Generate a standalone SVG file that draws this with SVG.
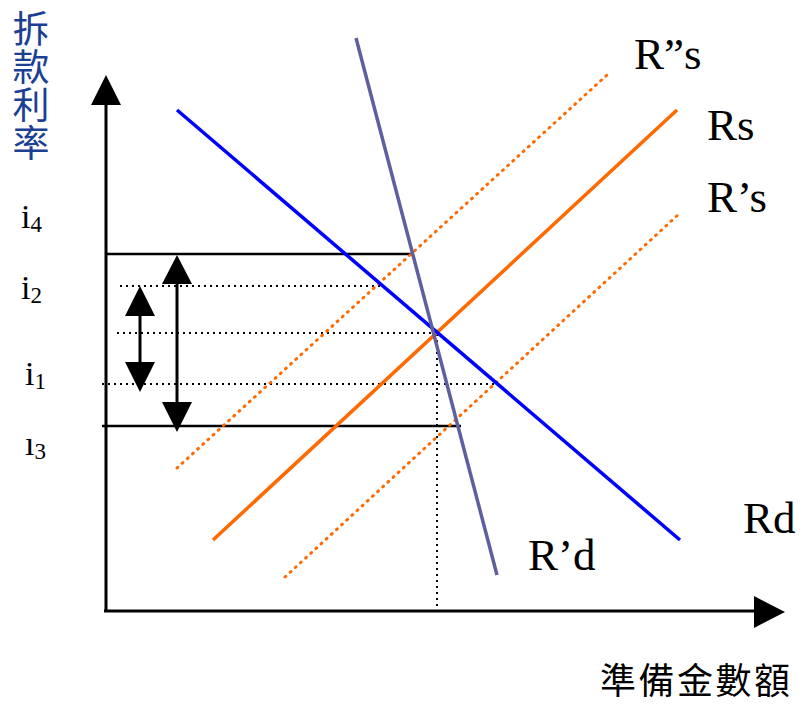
<svg xmlns="http://www.w3.org/2000/svg" width="803" height="705" viewBox="0 0 803 705">
<style>
.lbl{font-family:"Liberation Serif","Times New Roman",serif;fill:#000}
.cjk{font-family:"Noto Sans CJK TC","Noto Sans CJK SC",sans-serif}
.axis{stroke:#000;stroke-width:3;fill:none}
.hs{stroke:#000;stroke-width:2.5;fill:none}
.dot{stroke:#000;stroke-width:2;stroke-dasharray:2 4;fill:none}
.odot{stroke:#ff6a00;stroke-width:3;stroke-dasharray:1 6;stroke-linecap:round;fill:none}
.head{fill:#000}
</style>
<rect width="803" height="705" fill="#fff"/>
<g id="axes">
<line class="axis" x1="106" y1="100" x2="106" y2="612"/>
<line class="axis" x1="104" y1="611" x2="760" y2="611"/>
<polygon class="head" points="106,75 91,105 121,105"/>
<polygon class="head" points="785,612 754,596 754,628"/>
</g>
<g id="connectors">
<line class="hs" x1="106" y1="254" x2="413" y2="254"/>
<line class="hs" x1="102" y1="426" x2="461" y2="426"/>
<line class="dot" x1="120" y1="286" x2="382" y2="286"/>
<line class="dot" x1="117" y1="333" x2="436" y2="333"/>
<line class="dot" x1="102" y1="384" x2="494" y2="384"/>
<line class="dot" x1="437" y1="334" x2="437" y2="610"/>
<line class="odot" x1="177" y1="468" x2="607" y2="75"/>
<line class="odot" x1="285" y1="577" x2="680" y2="213"/>
<line x1="213" y1="540" x2="677" y2="110" stroke="#ff6a00" stroke-width="3.5"/>
<line x1="177" y1="110" x2="680" y2="540" stroke="#0000ff" stroke-width="3.5"/>
<line x1="356" y1="38" x2="497" y2="575" stroke="#5f5f9f" stroke-width="3.5"/>
<line x1="177" y1="280" x2="177" y2="405" stroke="#000" stroke-width="3"/>
<polygon class="head" points="177,255 162,284 192,284"/>
<polygon class="head" points="177,432 162,402 192,402"/>
<line x1="140" y1="312" x2="140" y2="366" stroke="#000" stroke-width="3"/>
<polygon class="head" points="140,286 125,316 155,316"/>
<polygon class="head" points="140,392 125,362 155,362"/>
</g>
<g id="ylabel">
<text class="cjk" x="31" y="10" font-size="37" writing-mode="vertical-rl" letter-spacing="1" fill="#1c3f94">拆款利率</text>
</g>
<g id="xlabel">
<text class="cjk" x="600" y="694" font-size="36" letter-spacing="2.5" fill="#000">準備金數額</text>
</g>
<g id="ilabels" class="lbl" font-size="34">
<text x="21" y="228">i<tspan font-size="23" dy="4">4</tspan></text>
<text x="21" y="299">i<tspan font-size="23" dy="4">2</tspan></text>
<text x="25" y="385">i<tspan font-size="23" dy="4">1</tspan></text>
<text x="25" y="455">ı<tspan font-size="23" dy="4">3</tspan></text>
</g>
<g id="curve-labels" class="lbl" font-size="45">
<text x="634" y="69">R”s</text>
<text x="707" y="140">Rs</text>
<text x="707" y="212">R’s</text>
<text x="743" y="533">Rd</text>
<text x="528" y="570">R’d</text>
</g>
</svg>
